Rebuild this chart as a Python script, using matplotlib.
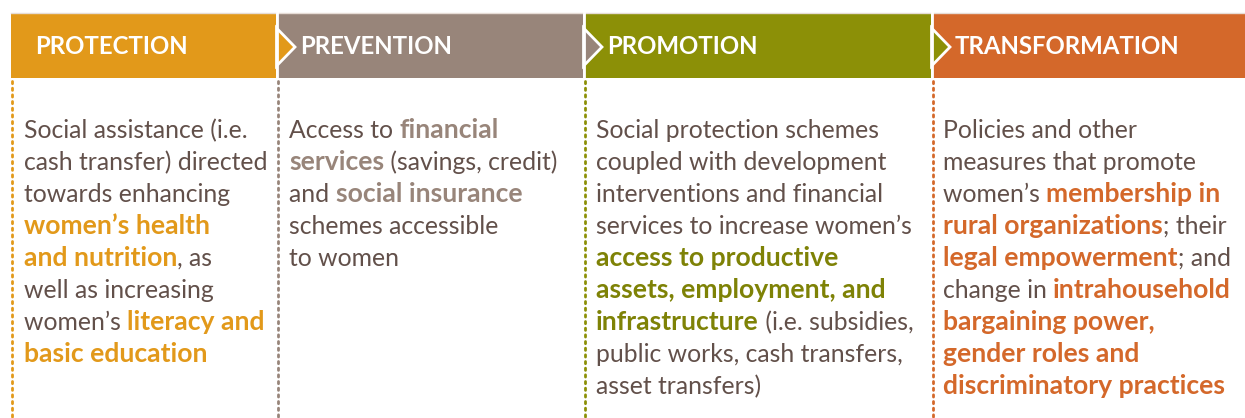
import matplotlib.pyplot as plt
from matplotlib.patches import Rectangle, Polygon

# column data
titles = ["PROTECTION", "PREVENTION", "PROMOTION", "TRANSFORMATION"]
colors = ["#E2991A", "#98857A", "#8C9007", "#D4682A"]
text_colors = ["#E2991A", "#98857A", "#7E8206", "#D4682A"]
col_left = [11, 277, 584, 932]
col_right = [276, 583, 931, 1245]

# each line: list of (text, bold)
protection = [
    [("Social assistance (i.e.", 0)],
    [("cash transfer) directed", 0)],
    [("towards enhancing", 0)],
    [("women\u2019s health", 1)],
    [("and nutrition", 1), (", as", 0)],
    [("well as increasing", 0)],
    [("women\u2019s ", 0), ("literacy and", 1)],
    [("basic education", 1)],
]
prevention = [
    [("Access to ", 0), ("financial", 1)],
    [("services", 1), (" (savings, credit)", 0)],
    [("and ", 0), ("social insurance", 1)],
    [("schemes accessible", 0)],
    [("to women", 0)],
]
promotion = [
    [("Social protection schemes", 0)],
    [("coupled with development", 0)],
    [("interventions and financial", 0)],
    [("services to increase women\u2019s", 0)],
    [("access to productive", 1)],
    [("assets, employment, and", 1)],
    [("infrastructure", 1), (" (i.e. subsidies,", 0)],
    [("public works, cash transfers,", 0)],
    [("asset transfers)", 0)],
]
transformation = [
    [("Policies and other", 0)],
    [("measures that promote", 0)],
    [("women\u2019s ", 0), ("membership in", 1)],
    [("rural organizations", 1), ("; their", 0)],
    [("legal empowerment", 1), ("; and", 0)],
    [("change in ", 0), ("intrahousehold", 1)],
    [("bargaining power,", 1)],
    [("gender roles and", 1)],
    [("discriminatory practices", 1)],
]
bodies = [protection, prevention, promotion, transformation]

W, H = 1245, 418
fig = plt.figure(figsize=(W / 100, H / 100), dpi=100)
ax = fig.add_axes([0, 0, 1, 1])
ax.set_xlim(0, W)
ax.set_ylim(H, 0)
ax.axis("off")

FONT = "Lato"
body_size = 17.8
bold_size = 19.1
head_size = 17.3
body_col = "#62504A"

band_top, band_bot = 13, 78
ax.plot([col_left[0], W], [band_top, band_top], color="#E6DCD6", lw=1)
for i in range(4):
    x0, x1 = col_left[i], col_right[i]
    ax.add_patch(Rectangle((x0, band_top), x1 - x0, band_bot - band_top,
                           facecolor=colors[i], edgecolor="none"))
    # dotted guide
    ax.plot([x0 + 0.5, x0 + 0.5], [81, H], color=colors[i], lw=2,
            linestyle=(0, (0.8, 1.6)), dash_capstyle="round")

for i in range(1, 4):
    x0 = col_left[i]
    ax.plot([x0 - 0.5, x0 - 0.5], [band_top, band_bot], color="white", lw=2)
    ax.add_patch(Polygon([(x0 - 0.5, 28), (x0 + 18, 47), (x0 - 0.5, 66)],
                         closed=True, facecolor=colors[i - 1],
                         edgecolor="white", lw=2, joinstyle="miter"))

head_x = [35, 300, 607, 955]
for i in range(4):
    ax.text(head_x[i], 47, titles[i], color="white", fontsize=head_size,
            fontweight="bold", family=FONT, va="center", ha="left")

fig.canvas.draw()
renderer = fig.canvas.get_renderer()

text_x = [24, 289, 596, 943]
for i, lines in enumerate(bodies):
    for j, line in enumerate(lines):
        x = text_x[i]
        y = 138 + 32 * j
        for s, b in line:
            t = ax.text(x, y, s, fontsize=bold_size if b else body_size,
                        family=FONT, fontweight="bold" if b else "normal",
                        color=text_colors[i] if b else body_col,
                        va="baseline", ha="left")
            x += t.get_window_extent(renderer).width

fig.savefig("out.png", dpi=100)
